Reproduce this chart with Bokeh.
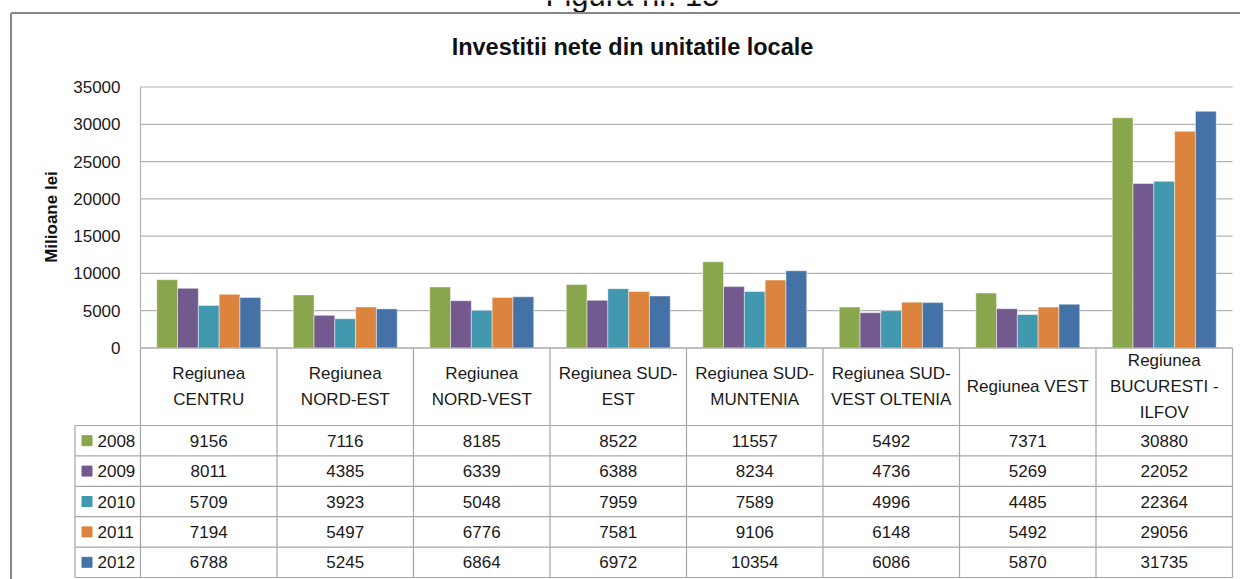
import math
from bokeh.plotting import figure
from bokeh.models import Range1d, ColumnDataSource
from bokeh.core.properties import value
from bokeh.embed import file_html
from bokeh.resources import INLINE

# ---------------- data ----------------
regions = ["Regiunea CENTRU", "Regiunea NORD-EST", "Regiunea NORD-VEST", "Regiunea SUD-EST",
           "Regiunea SUD-MUNTENIA", "Regiunea SUD-VEST OLTENIA", "Regiunea VEST",
           "Regiunea BUCURESTI - ILFOV"]
header_labels = ["Regiunea\nCENTRU", "Regiunea\nNORD-EST", "Regiunea\nNORD-VEST", "Regiunea SUD-\nEST",
                 "Regiunea SUD-\nMUNTENIA", "Regiunea SUD-\nVEST OLTENIA", "Regiunea VEST",
                 "Regiunea\nBUCURESTI -\nILFOV"]
years = ["2008", "2009", "2010", "2011", "2012"]
v2008 = [9156, 7116, 8185, 8522, 11557, 5492, 7371, 30880]
v2009 = [8011, 4385, 6339, 6388, 8234, 4736, 5269, 22052]
v2010 = [5709, 3923, 5048, 7959, 7589, 4996, 4485, 22364]
v2011 = [7194, 5497, 6776, 7581, 9106, 6148, 5492, 29056]
v2012 = [6788, 5245, 6864, 6972, 10354, 6086, 5870, 31735]
series = [v2008, v2009, v2010, v2011, v2012]
colors = ["#8AA64D", "#72598E", "#4198AF", "#DC843D", "#4572A6"]
y_ticks = [0, 5000, 10000, 15000, 20000, 25000, 30000, 35000]
y_max = 35000
caption = "Figura nr. 15"
title = "Investitii nete din unitatile locale"
y_label = "Milioane lei"

# ---------------- layout (picture pixels) ----------------
W, H = 1240, 579
OFF = 0
PLOT_L = 140.0
COL_W = 136.5
ZERO_Y = 347.5
TOP_Y = 86.5
K = (ZERO_Y - TOP_Y) / y_max
n = len(regions)

def X(px):
    return (px - PLOT_L) / COL_W

def Y(py):
    return (ZERO_Y - py) / K

p = figure(width=W, height=H, output_backend="svg", toolbar_location=None,
           x_range=Range1d(X(OFF), X(OFF + W)), y_range=Range1d(Y(OFF + H), Y(OFF)),
           x_axis_type=None, y_axis_type=None, min_border=0,
           outline_line_color=None, background_fill_color="white",
           border_fill_color="white")
p.grid.visible = False

FONT = value("Liberation Sans")
TXT = "#1a1a1a"
GRID = "#b4b4b4"
TBL = "#a6a6a6"

# caption (cut off at the top, as in the reference)
p.text(x=[X(632)], y=[Y(-5)], text=[caption], text_font=FONT, text_font_size="31px",
       text_align="center", text_baseline="middle", text_color="#111111")

# outer frame
p.segment(x0=[X(10.5), X(10.5)], y0=[Y(12.5), Y(12.5)], x1=[X(1245), X(10.5)], y1=[Y(12.5), Y(585)],
          line_color="#878787", line_width=2)

# title
p.text(x=[X(632)], y=[Y(46)], text=[title], text_font=FONT, text_font_size="23.5px",
       text_font_style="bold", text_align="center", text_baseline="middle", text_color="#111111")

# y-axis label
p.text(x=[X(50.5)], y=[Y(216.5)], text=[y_label], text_font=FONT, text_font_size="17px",
       text_font_style="bold", text_align="center", text_baseline="middle", angle=math.pi / 2,
       text_color="#111111")

# gridlines
p.segment(x0=[0] * len(y_ticks), y0=y_ticks, x1=[n] * len(y_ticks), y1=y_ticks,
          line_color=GRID, line_width=1.2)
# axis line
p.segment(x0=[0], y0=[0], x1=[0], y1=[y_max], line_color=GRID, line_width=1.2)
# tick labels
p.text(x=[X(120)] * len(y_ticks), y=y_ticks, text=[str(t) for t in y_ticks], text_font=FONT,
       text_font_size="17px", text_align="right", text_baseline="middle", text_color=TXT)

# bars
bw = 20.8 / COL_W
for j, (yr, vals, col) in enumerate(zip(years, series, colors)):
    xs = [i + 0.5 + (j - 2) * bw for i in range(n)]
    src = ColumnDataSource(dict(x=xs, top=vals))
    p.vbar(x="x", top="top", bottom=0, width=bw, source=src, fill_color=col,
           line_color="white", line_alpha=0.45, line_width=1)

# ---------------- data table ----------------
HDR_TOP = ZERO_Y
HDR_BOT = 425.0
ROW_H = 30.4
TBL_BOT = HDR_BOT + ROW_H * len(years)
LEG_L = 74.5

# horizontal lines
hy = [HDR_BOT + ROW_H * r for r in range(len(years) + 1)]
p.segment(x0=[X(LEG_L)] * len(hy), y0=[Y(v) for v in hy], x1=[n] * len(hy), y1=[Y(v) for v in hy],
          line_color=TBL, line_width=1.2)
p.segment(x0=[0], y0=[0], x1=[n], y1=[0], line_color=TBL, line_width=1.2)
# vertical lines
vx = list(range(n + 1))
p.segment(x0=vx, y0=[Y(HDR_TOP)] * len(vx), x1=vx, y1=[Y(TBL_BOT)] * len(vx),
          line_color=TBL, line_width=1.2)
p.segment(x0=[X(LEG_L)], y0=[Y(HDR_BOT)], x1=[X(LEG_L)], y1=[Y(TBL_BOT)],
          line_color=TBL, line_width=1.2)

# header labels
p.text(x=[i + 0.5 for i in range(n)], y=[Y((HDR_TOP + HDR_BOT) / 2)] * n, text=header_labels,
       text_font=FONT, text_font_size="17px", text_align="center", text_baseline="middle",
       text_line_height=1.38, text_color=TXT)

# rows
for r, (yr, vals, col) in enumerate(zip(years, series, colors)):
    cy = Y(HDR_BOT + ROW_H * (r + 0.5))
    p.scatter(x=[X(86.5)], y=[cy], marker="square", size=10, fill_color=col, line_color=col)
    p.text(x=[X(97)], y=[cy], text=[yr], text_font=FONT, text_font_size="17px",
           text_align="left", text_baseline="middle", text_color=TXT)
    p.text(x=[i + 0.5 for i in range(n)], y=[cy] * n, text=[str(v) for v in vals],
           text_font=FONT, text_font_size="17px", text_align="center", text_baseline="middle",
           text_color=TXT)

open("out.html", "w").write(file_html(p, INLINE))
